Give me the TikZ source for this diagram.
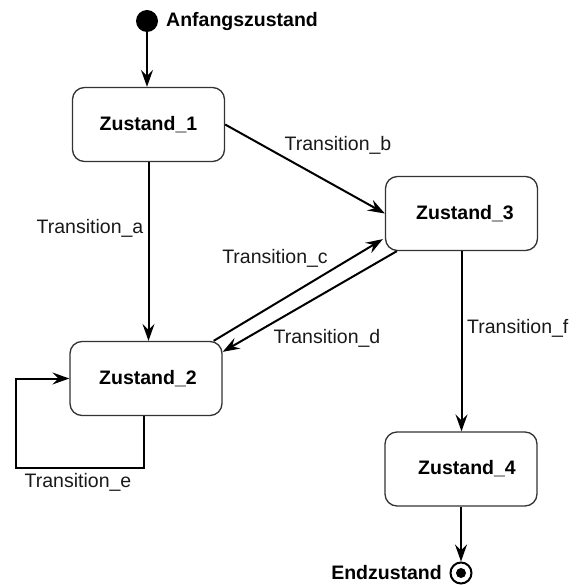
\documentclass[tikz,border=0pt]{standalone}
\usepackage{fontspec}
\setmainfont{Liberation Sans}
\usetikzlibrary{arrows.meta,calc}
\begin{document}
\begin{tikzpicture}[x=1pt,y=-1pt,
  every node/.style={font=\fontsize{19.5}{23}\selectfont},
  state/.style={draw=black!80, line width=1.3pt, rounded corners=12pt,
    minimum width=152pt, minimum height=74pt, inner sep=0pt, font=\fontsize{19.5}{23}\selectfont\bfseries},
  trans/.style={draw=black, line width=2pt,
    -{Stealth[length=17pt,width=12pt,inset=6pt]}},
  tlabel/.style={inner sep=0pt, text=black!90},
  pseudo/.style={circle, fill=black, inner sep=0pt, minimum size=22pt}]
\useasboundingbox (0,0) rectangle (582,585);

% states
\node[state] (z1) at (148.5,124.5) {Zustand\_1};
\node[state] (z3) at (461.5,213.5) {\hspace*{7pt}Zustand\_3};
\node[state] (z2) at (146,378.5) {\hspace*{4pt}Zustand\_2};
\node[state] (z4) at (461,469) {\hspace*{12pt}Zustand\_4};

% initial and final pseudo states
\node[pseudo] (init) at (147,21) {};
\node[anchor=west, font=\fontsize{19.5}{23}\selectfont\bfseries, inner sep=0pt] (initlbl) at (166,22) {Anfangszustand};
\node[circle, draw=black, line width=2pt, fill=white, minimum size=21pt, inner sep=0pt] (fin) at (461,573) {};
\node[circle, fill=black, minimum size=10pt, inner sep=0pt] (findot) at (fin.center) {};
\node[anchor=east, font=\fontsize{19.5}{23}\selectfont\bfseries, inner sep=0pt] (finlbl) at (442,573) {Endzustand};

% transitions
\draw[trans] (init.south) -- (init.south |- z1.north);
\draw[trans] (z1.south) -- (z1.south |- z2.north);
\draw[trans] (z1.east) -- (z3.west);
\draw[trans] ($(z2.north east)+(-9,0)$) -- ($(z3.south west)+(-2,-12)$);
\draw[trans] ($(z3.south west)+(12,0)$) -- ($(z2.north east)+(0,11)$);
\draw[trans] ($(z2.south)+(-2,0)$) -- ++(0,52) -- ++(-128,0) |- (z2.west);
\draw[trans] (z3.south) -- (z3.south |- z4.north);
\draw[trans] (z4.south) -- (fin.north);

% transition labels
\node[tlabel] (la) at (90,228) {Transition\_a};
\node[tlabel] (lb) at (338,145) {Transition\_b};
\node[tlabel] (lc) at (275,258) {Transition\_c};
\node[tlabel] (ld) at (327,338) {Transition\_d};
\node[tlabel] (le) at (78,482) {Transition\_e};
\node[tlabel, anchor=west] (lf) at (467,328) {Transition\_f};
\end{tikzpicture}
\end{document}
